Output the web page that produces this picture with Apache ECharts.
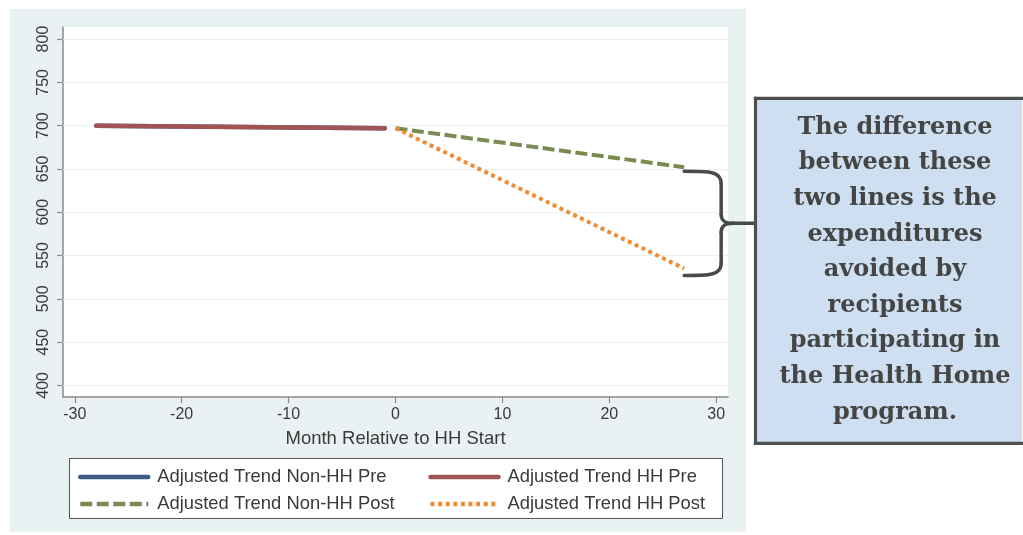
<!DOCTYPE html>
<html><head><meta charset="utf-8">
<script src="https://cdn.jsdelivr.net/npm/echarts@6/dist/echarts.min.js"></script>
<style>html,body{margin:0;padding:0;background:#fff;overflow:hidden}#c{width:1023px;height:535px}</style>
</head><body><div id="c"></div>
<script>
// ---- data ----
const seriesNames = ['Adjusted Trend Non-HH Pre', 'Adjusted Trend HH Pre', 'Adjusted Trend Non-HH Post', 'Adjusted Trend HH Post'];
const nonHHPreX = [-28, -1];
const nonHHPreY = [700, 697];
const hhPreX = [-28, -1];
const hhPreY = [700, 697];
const nonHHPostX = [0, 27];
const nonHHPostY = [697, 652];
const hhPostX = [0, 27];
const hhPostY = [697, 535];
const xTicks = [-30, -20, -10, 0, 10, 20, 30];
const yTicks = [400, 450, 500, 550, 600, 650, 700, 750, 800];
const xTitle = 'Month Relative to HH Start';
const calloutLines = ['The difference', 'between these', 'two lines is the', 'expenditures', 'avoided by', 'recipients', 'participating in', 'the Health Home', 'program.'];

const pts = (xs, ys) => xs.map((x, i) => [x, ys[i]]);
const FONT = '"Liberation Sans", Arial, Helvetica, sans-serif';
const TXT = '#3a3a3a';
const AX = '#8a8a8a';

const chart = echarts.init(document.getElementById('c'), null, {renderer: 'canvas'});
const option = {
  backgroundColor: '#ffffff',
  animation: false,
  grid: {left: 63, right: 295, top: 27, bottom: 138, show: true, backgroundColor: '#ffffff', borderWidth: 0, containLabel: false},
  xAxis: {
    type: 'value', min: -31.1, max: 31.1,
    name: xTitle, nameLocation: 'middle', nameGap: 32,
    nameTextStyle: {fontFamily: FONT, fontSize: 18.5, color: TXT},
    axisLine: {show: true, onZero: false, lineStyle: {color: AX, width: 1.5}},
    axisTick: {show: true, length: 6, lineStyle: {color: AX, width: 1.2}, customValues: xTicks},
    axisLabel: {fontFamily: FONT, fontSize: 16, color: TXT, margin: 10, customValues: xTicks},
    splitLine: {show: false}
  },
  yAxis: {
    type: 'value', min: 386.6, max: 813.9,
    axisLine: {show: true, onZero: false, lineStyle: {color: AX, width: 1.5}},
    axisTick: {show: true, length: 6, lineStyle: {color: AX, width: 1.2}, customValues: yTicks},
    axisLabel: {fontFamily: FONT, fontSize: 16, color: TXT, rotate: 90, margin: 11, customValues: yTicks},
    splitLine: {show: false}
  },
  legend: {
    left: 78, top: 468, width: 720, orient: 'horizontal', padding: 0,
    itemWidth: 68, itemHeight: 14, itemGap: 9,
    data: seriesNames,
    textStyle: {fontFamily: FONT, fontSize: 18.4, color: TXT, width: 262, lineHeight: 17, overflow: 'none', padding: [0, 0, 0, 4]},
    itemStyle: {opacity: 0, borderWidth: 0},
    lineStyle: {width: 4.5},
    selectedMode: false
  },
  series: [
    {name: seriesNames[0], type: 'line', data: pts(nonHHPreX, nonHHPreY), symbol: 'none', z: 2,
     lineStyle: {color: '#3e5a86', width: 4.5, cap: 'round'}, itemStyle: {color: '#3e5a86'},
     markLine: {silent: true, symbol: 'none', label: {show: false}, animation: false, z: 1,
       lineStyle: {color: '#e9f0f2', width: 1.2, type: 'solid'},
       data: yTicks.map(v => ({yAxis: v}))}},
    {name: seriesNames[1], type: 'line', data: pts(hhPreX, hhPreY), symbol: 'none', z: 3,
     lineStyle: {color: '#a05454', width: 4.5, cap: 'round'}, itemStyle: {color: '#a05454'}},
    {name: seriesNames[2], type: 'line', data: pts(nonHHPostX, nonHHPostY), symbol: 'none', z: 3,
     lineStyle: {color: '#7a8b52', width: 4, type: [12, 4.5]}, itemStyle: {color: '#7a8b52'}},
    {name: seriesNames[3], type: 'line', data: pts(hhPostX, hhPostY), symbol: 'none', z: 4,
     lineStyle: {color: '#ee8c38', width: 4, type: [4, 3.6]}, itemStyle: {color: '#ee8c38'}}
  ]
};
chart.setOption(option);

// annotation: brace from the end of the Non-HH Post line to the end of the HH Post line, and callout box
const pTop = chart.convertToPixel({gridIndex: 0}, [nonHHPostX[1], nonHHPostY[1]]);
const pBot = chart.convertToPixel({gridIndex: 0}, [hhPostX[1], hhPostY[1]]);
const x0 = pTop[0], yT = pTop[1] + 4, yB = pBot[1] + 7, ym = (yT + yB) / 2, xv = x0 + 37, xBox = 756;
const braceStyle = {stroke: '#4a4a4a', lineWidth: 3.5, fill: null, lineCap: 'round'};
const bez = (id, a, c1, c2, b) => ({id, type: 'bezierCurve', z: 50, silent: true,
  shape: {x1: a[0], y1: a[1], cpx1: c1[0], cpy1: c1[1], cpx2: c2[0], cpy2: c2[1], x2: b[0], y2: b[1]}, style: braceStyle});
const seg = (id, a, b) => ({id, type: 'line', z: 50, silent: true,
  shape: {x1: a[0], y1: a[1], x2: b[0], y2: b[1]}, style: braceStyle});
const boxL = 755.5, boxT = 98.3, boxB = 443.3, boxR = 1022;
const boxStroke = {stroke: '#4f4f4f', lineWidth: 3.2, lineCap: 'square'};

chart.setOption({
  graphic: [
    {id: 'outerbg', type: 'rect', z: -100, silent: true, shape: {x: 10, y: 9, width: 736, height: 523}, style: {fill: '#eaf1f3'}},
    {id: 'legendbox', type: 'rect', z: -50, silent: true, shape: {x: 69.5, y: 458.5, width: 653, height: 60}, style: {fill: '#ffffff', stroke: '#555555', lineWidth: 1}},
    bez('b1', [x0, yT], [xv - 12, yT], [xv, yT], [xv, yT + 12]),
    seg('b2', [xv, yT + 12], [xv, ym - 9]),
    bez('b3', [xv, ym - 9], [xv, ym - 2], [xv + 4, ym], [xv + 12, ym]),
    seg('b4', [xv + 12, ym], [xBox, ym]),
    bez('b5', [xv + 12, ym], [xv + 4, ym], [xv, ym + 2], [xv, ym + 9]),
    seg('b6', [xv, ym + 9], [xv, yB - 12]),
    bez('b7', [xv, yB - 12], [xv, yB], [xv - 12, yB], [x0, yB]),
    {id: 'callfill', type: 'rect', z: 60, silent: true, shape: {x: boxL, y: boxT, width: boxR - boxL, height: boxB - boxT}, style: {fill: '#cddff0'}},
    {id: 'edgeT', type: 'line', z: 61, silent: true, shape: {x1: boxL, y1: boxT, x2: boxR, y2: boxT}, style: boxStroke},
    {id: 'edgeL', type: 'line', z: 61, silent: true, shape: {x1: boxL, y1: boxT, x2: boxL, y2: boxB}, style: boxStroke},
    {id: 'edgeB', type: 'line', z: 61, silent: true, shape: {x1: boxL, y1: boxB, x2: boxR, y2: boxB}, style: boxStroke},
    {id: 'calltext', type: 'text', z: 62, silent: true, x: 895, y: 270,
     style: {text: calloutLines.join('\n'), fill: '#454545', font: 'bold 24px "DejaVu Serif", serif', lineHeight: 35.6, align: 'center', verticalAlign: 'middle'}}
  ]
});
</script></body></html>
